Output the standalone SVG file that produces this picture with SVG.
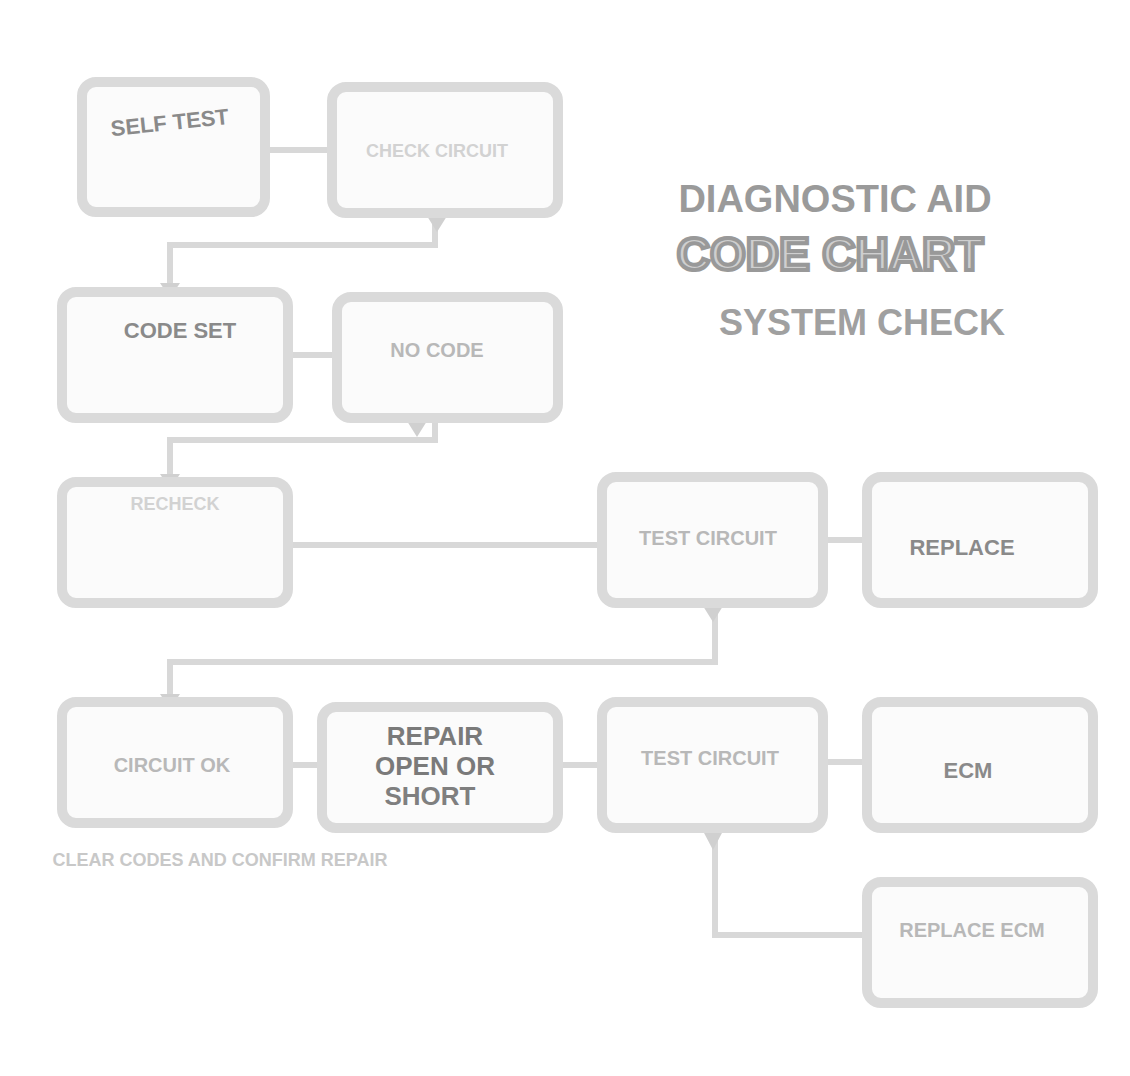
<svg xmlns="http://www.w3.org/2000/svg" width="1130" height="1076" viewBox="0 0 1130 1076">
<style>
.box{fill:#fbfbfb;stroke:#dadada;stroke-width:10}
.ln{fill:none;stroke:#d8d8d8;stroke-width:6}
.t{font-family:"Liberation Sans",Arial,sans-serif;font-weight:bold;text-anchor:middle}
.lt{fill:#d2d2d2;font-size:18px}
.md{fill:#b8b8b8;font-size:20px}
.dk{fill:#8a8a8a;font-size:22px}
.ar{fill:#d0d0d0}
</style>
<rect width="1130" height="1076" fill="#ffffff"/>
<g id="connectors">
<path class="ln" d="M265 150 H330"/>
<path class="ln" d="M435 215 V245 H170 V285"/>
<path class="ln" d="M290 355 H335"/>
<path class="ln" d="M435 420 V440 H170 V478"/>
<path class="ln" d="M290 545 H600"/>
<path class="ln" d="M825 540 H865"/>
<path class="ln" d="M715 605 V662 H170 V698"/>
<path class="ln" d="M290 765 H320"/>
<path class="ln" d="M560 765 H600"/>
<path class="ln" d="M825 762 H865"/>
<path class="ln" d="M715 830 V935 H865"/>
<polygon class="ar" points="160,283 180,283 170,298"/>
<polygon class="ar" points="160,474 180,474 170,489"/>
<polygon class="ar" points="160,694 180,694 170,709"/>
<polygon class="ar" points="427,216 447,216 437,232"/>
<polygon class="ar" points="407,421 427,421 417,437"/>
<polygon class="ar" points="703,606 723,606 713,622"/>
<polygon class="ar" points="703,831 723,831 713,850"/>
</g>
<g id="nA"><rect class="box" x="82" y="82" width="183" height="130" rx="14"/><text class="t dk" x="170" y="130" transform="rotate(-6 170 125)">SELF TEST</text></g>
<g id="nB"><rect class="box" x="332" y="87" width="226" height="126" rx="14"/><text class="t lt" x="437" y="157">CHECK CIRCUIT</text></g>
<g id="nC"><rect class="box" x="62" y="292" width="226" height="126" rx="14"/><text class="t dk" x="180" y="338">CODE SET</text></g>
<g id="nD"><rect class="box" x="337" y="297" width="221" height="121" rx="14"/><text class="t md" x="437" y="357">NO CODE</text></g>
<g id="nE"><rect class="box" x="62" y="482" width="226" height="121" rx="14"/><text class="t lt" x="175" y="510">RECHECK</text></g>
<g id="nF"><rect class="box" x="602" y="477" width="221" height="126" rx="14"/><text class="t md" x="708" y="545">TEST CIRCUIT</text></g>
<g id="nG"><rect class="box" x="867" y="477" width="226" height="126" rx="14"/><text class="t dk" x="962" y="555">REPLACE</text></g>
<g id="nH"><rect class="box" x="62" y="702" width="226" height="121" rx="14"/><text class="t md" x="172" y="772">CIRCUIT OK</text></g>
<g id="nI"><rect class="box" x="322" y="707" width="236" height="121" rx="14"/><text class="t dk" x="435" y="745" style="font-size:26px;fill:#7a7a7a">REPAIR</text><text class="t dk" x="435" y="775" style="font-size:26px;fill:#7a7a7a">OPEN OR</text><text class="t dk" x="430" y="805" style="font-size:26px;fill:#7f7f7f">SHORT</text></g>
<g id="nJ"><rect class="box" x="602" y="702" width="221" height="126" rx="14"/><text class="t md" x="710" y="765">TEST CIRCUIT</text></g>
<g id="nK"><rect class="box" x="867" y="702" width="226" height="126" rx="14"/><text class="t dk" x="968" y="778">ECM</text></g>
<g id="nL"><rect class="box" x="867" y="882" width="226" height="121" rx="14"/><text class="t md" x="972" y="937">REPLACE ECM</text></g>
<g id="note"><text class="t lt" x="220" y="866" style="fill:#c8c8c8">CLEAR CODES AND CONFIRM REPAIR</text></g>
<g id="title">
<text class="t" x="835" y="212" style="font-size:38px;fill:#9a9a9a">DIAGNOSTIC AID</text>
<text class="t" x="830" y="270" style="font-size:46px;fill:#cfcfcf;stroke:#999999;stroke-width:4">CODE CHART</text>
<text class="t" x="862" y="335" style="font-size:36px;fill:#a0a0a0">SYSTEM CHECK</text>
</g>
</svg>
